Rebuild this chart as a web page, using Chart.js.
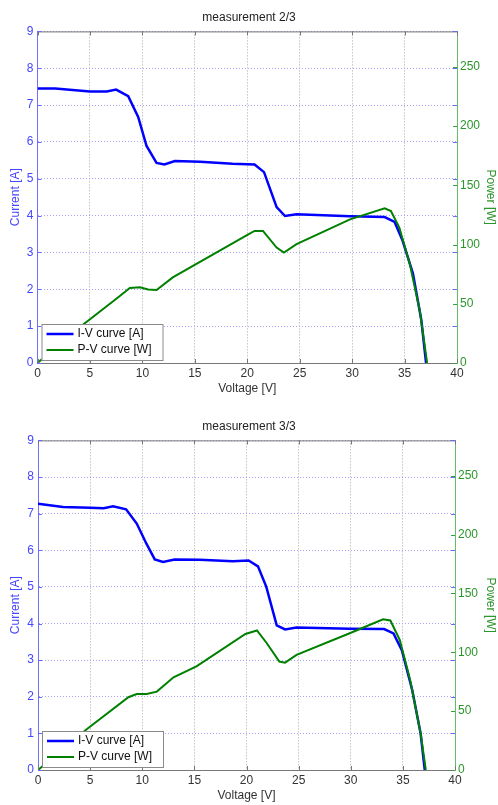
<!DOCTYPE html>
<html>
<head>
<meta charset="utf-8">
<script src="https://cdn.jsdelivr.net/npm/chart.js@4"></script>
<style>
  html, body { margin: 0; padding: 0; background: #fff; }
  body { width: 498px; height: 805px; overflow: hidden; position: relative; }
  canvas { position: absolute; left: 0; }
  #grafico2 { top: 0; }
  #grafico3 { top: 409px; }
</style>
</head>
<body>
<canvas id="grafico2" width="498" height="400"></canvas>
<canvas id="grafico3" width="498" height="398"></canvas>
<script>
// measurement 2/3
const tensaoIV2 = [0, 1.7, 5, 6.6, 7.5, 8.65, 9.6, 10.4, 11.35, 12.1, 13.1, 15.5, 18.6, 20.7, 21.6, 22.8, 23.6, 24.7, 29.8, 33.1, 34.05, 34.8, 35.8, 36.6, 37.05];
const corrente2 = [7.45, 7.45, 7.37, 7.37, 7.42, 7.24, 6.68, 5.89, 5.43, 5.39, 5.48, 5.46, 5.41, 5.39, 5.18, 4.23, 3.99, 4.04, 3.98, 3.96, 3.83, 3.33, 2.43, 1.16, 0];
const tensaoPV2 = [0, 4.36, 7.7, 8.8, 9.76, 10.55, 11.35, 12.9, 20.1, 20.7, 21.5, 22.8, 23.5, 24.7, 29.8, 33.1, 33.7, 34.5, 35.5, 36.45, 37.15];
const potencia2 = [0, 32.5, 55.5, 63.4, 63.9, 62, 61.7, 72.3, 108.7, 111.5, 111.5, 97.5, 93.3, 100.3, 121.3, 130.6, 128.3, 114.3, 83.5, 44.3, 0];

// measurement 3/3
const tensaoIV3 = [0, 2.4, 5, 6.3, 7.2, 8.45, 9.47, 10.4, 11.2, 12.0, 13.1, 15.5, 18.7, 20.2, 21.1, 21.9, 22.9, 23.7, 24.8, 29.9, 33.2, 34.1, 34.9, 35.9, 36.7, 37.1];
const corrente3 = [7.27, 7.18, 7.16, 7.15, 7.2, 7.12, 6.73, 6.18, 5.75, 5.68, 5.75, 5.74, 5.7, 5.72, 5.56, 5.0, 3.95, 3.84, 3.89, 3.86, 3.85, 3.73, 3.27, 2.18, 1.0, 0];
const tensaoPV3 = [0, 4.67, 8.67, 9.47, 10.43, 11.4, 13.0, 15.2, 19.9, 21.0, 21.95, 23.15, 23.7, 24.8, 29.9, 33.1, 33.8, 34.7, 35.7, 36.7, 37.2];
const potencia3 = [0, 34.6, 61.8, 64.6, 64.6, 66.6, 78.8, 88, 115.6, 118.5, 107.7, 92.1, 91.2, 97.8, 116.2, 128.1, 127, 110.5, 76.5, 31.2, 0];

const ticksTensao = [0, 5, 10, 15, 20, 25, 30, 35, 40];
const ticksCorrente = [0, 1, 2, 3, 4, 5, 6, 7, 8, 9];
const ticksPotencia = [0, 50, 100, 150, 200, 250];

const AZUL = '#0000ff';
const VERDE = '#008000';

Chart.defaults.font.family = '"Liberation Sans", Arial, sans-serif';
Chart.defaults.font.size = 12;

function pontos(xs, ys){
  return xs.map((x, i) => ({ x: x, y: ys[i] }));
}

// top border line + inward tick marks like matlab
const moldura = {
  id: 'moldura',
  afterDatasetsDraw(chart){
    const { ctx, chartArea } = chart;
    const { x, y, y2 } = chart.scales;
    ctx.save();
    ctx.lineWidth = 1;
    ctx.strokeStyle = '#777';
    ctx.beginPath();
    ctx.moveTo(chartArea.left, chartArea.top + 0.5);
    ctx.lineTo(chartArea.right, chartArea.top + 0.5);
    ticksTensao.forEach(v => {
      const px = Math.round(x.getPixelForValue(v)) + 0.5;
      ctx.moveTo(px, chartArea.top); ctx.lineTo(px, chartArea.top + 4);
      ctx.moveTo(px, chartArea.bottom); ctx.lineTo(px, chartArea.bottom - 4);
    });
    ctx.stroke();
    ctx.strokeStyle = '#6a6aff';
    ctx.beginPath();
    ticksCorrente.forEach(v => {
      const py = Math.round(y.getPixelForValue(v)) + 0.5;
      ctx.moveTo(chartArea.left, py); ctx.lineTo(chartArea.left + 4, py);
      ctx.moveTo(chartArea.right, py); ctx.lineTo(chartArea.right - 4, py);
    });
    ctx.stroke();
    ctx.strokeStyle = '#3c9c3c';
    ctx.beginPath();
    ticksPotencia.forEach(v => {
      const py = Math.round(y2.getPixelForValue(v)) + 0.5;
      ctx.moveTo(chartArea.right, py); ctx.lineTo(chartArea.right - 4, py);
    });
    ctx.stroke();
    ctx.restore();
  }
};

const legenda = {
  id: 'legenda',
  afterDraw(chart){
    const { ctx, chartArea } = chart;
    const bx = chartArea.left + 4, by = chartArea.bottom - 39, bw = 121, bh = 36;
    ctx.save();
    ctx.fillStyle = '#fff';
    ctx.fillRect(bx, by, bw, bh);
    ctx.strokeStyle = '#8a8a8a';
    ctx.lineWidth = 1;
    ctx.strokeRect(bx + 0.5, by + 0.5, bw, bh);
    ctx.font = Chart.defaults.font.size + 'px ' + Chart.defaults.font.family;
    ctx.textBaseline = 'middle';
    chart.data.datasets.forEach((ds, i) => {
      const ly = by + 10 + i * 16;
      ctx.strokeStyle = ds.borderColor;
      ctx.lineWidth = ds.borderWidth;
      ctx.beginPath();
      ctx.moveTo(bx + 5, ly);
      ctx.lineTo(bx + 32, ly);
      ctx.stroke();
      ctx.fillStyle = '#111';
      ctx.fillText(ds.label, bx + 36, ly);
    });
    ctx.restore();
  }
};

function criaGrafico(id, titulo, tIV, corr, tPV, pot, larguraEsq, larguraDir){
  return new Chart(document.getElementById(id), {
    type: 'line',
    data: {
      datasets: [{
        label: 'I-V curve [A]',
        data: pontos(tIV, corr),
        yAxisID: 'y',
        borderColor: AZUL,
        borderWidth: 2.5,
        pointRadius: 0,
        tension: 0,
        order: 1
      }, {
        label: 'P-V curve [W]',
        data: pontos(tPV, pot),
        yAxisID: 'y2',
        borderColor: VERDE,
        borderWidth: 2,
        pointRadius: 0,
        tension: 0,
        order: 0
      }]
    },
    options: {
      responsive: false,
      animation: false,
      events: [],
      layout: { padding: 0 },
      plugins: {
        legend: { display: false },
        tooltip: { enabled: false },
        title: {
          display: true,
          text: titulo,
          color: '#222',
          font: { size: 12, weight: 'normal' },
          padding: { top: 10, bottom: 7 }
        }
      },
      scales: {
        x: {
          type: 'linear',
          min: 0, max: 40,
          afterBuildTicks: s => { s.ticks = ticksTensao.map(v => ({ value: v })); },
          afterFit: s => { s.height = 37; },
          ticks: { color: '#333', padding: 3, maxRotation: 0 },
          grid: { color: '#a8a8a8', drawTicks: false },
          border: { color: '#777', dash: [1, 2] },
          title: { display: true, text: 'Voltage [V]', color: '#333', padding: { top: 0, bottom: 4 } }
        },
        y: {
          position: 'left',
          min: 0, max: 9,
          afterBuildTicks: s => { s.ticks = ticksCorrente.map(v => ({ value: v })); },
          afterFit: s => { s.width = larguraEsq; },
          ticks: { color: '#4646ff', padding: 4 },
          grid: { color: '#a4a4ff', drawTicks: false },
          border: { color: '#7070ff', dash: [1, 2] },
          title: { display: true, text: 'Current [A]', color: '#4646ff', padding: { top: 8, bottom: 0 } }
        },
        y2: {
          position: 'right',
          min: 0, max: 280,
          afterBuildTicks: s => { s.ticks = ticksPotencia.map(v => ({ value: v })); },
          afterFit: s => { s.width = larguraDir; },
          ticks: { color: '#2b962b', padding: 3 },
          grid: { display: false, drawTicks: false },
          border: { color: '#66bb66' },
          title: { display: true, text: 'Power [W]', color: '#2b962b', padding: { top: 0, bottom: 0 } }
        }
      }
    },
    plugins: [moldura, legenda]
  });
}

criaGrafico('grafico2', 'measurement 2/3', tensaoIV2, corrente2, tensaoPV2, potencia2, 37.5, 41);
criaGrafico('grafico3', 'measurement 3/3', tensaoIV3, corrente3, tensaoPV3, potencia3, 38, 43);
</script>
</body>
</html>
